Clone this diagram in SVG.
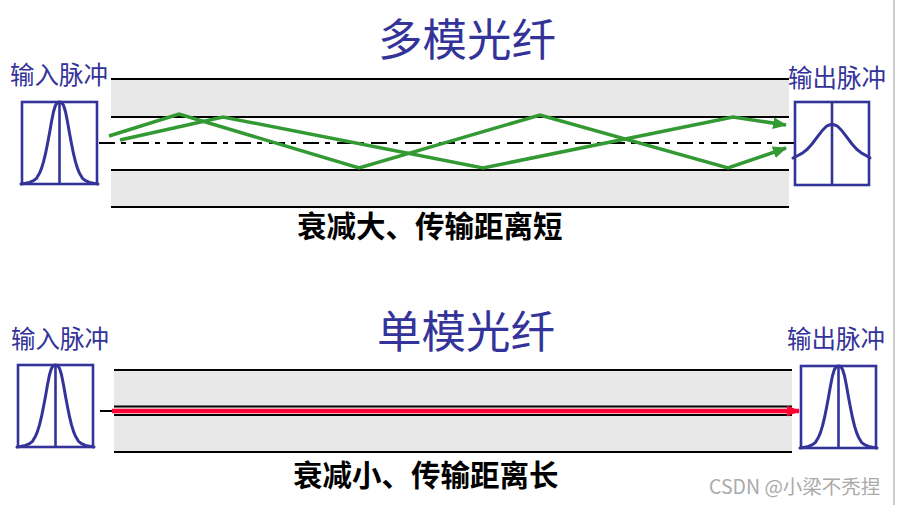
<svg xmlns="http://www.w3.org/2000/svg" width="897" height="505" viewBox="0 0 897 505">
<style>
.title{font-family:"Noto Sans CJK SC","Noto Sans",sans-serif;font-size:44.5px;fill:#333399}
.lbl{font-family:"Noto Sans CJK SC","Noto Sans",sans-serif;font-size:24.5px;fill:#333399}
.cap{font-family:"Noto Sans CJK SC","Noto Sans",sans-serif;font-size:29.5px;font-weight:bold;fill:#000}
.wm{font-family:"Noto Sans CJK SC","Liberation Sans",sans-serif;font-size:19.5px;fill:#aaaaaa}
.clad{fill:#e8e8e8}
.edge{stroke:#000;stroke-width:2;fill:none}
.box{fill:#fff;stroke:#333399;stroke-width:2.6}
.pulse{fill:none;stroke:#333399;stroke-width:3;stroke-linejoin:round;stroke-linecap:round}
.ray{fill:none;stroke:#339933;stroke-width:3.5;stroke-linejoin:miter}
</style>
<defs>
<marker id="ga" markerUnits="userSpaceOnUse" markerWidth="14" markerHeight="12" refX="13" refY="6" orient="auto">
<path d="M0,0 L14,6 L0,12 Z" fill="#339933"/>
</marker>
<marker id="ra" markerUnits="userSpaceOnUse" markerWidth="13" markerHeight="11" refX="12" refY="5.5" orient="auto">
<path d="M0,0 L13,5.5 L0,11 Z" fill="#ff0033"/>
</marker>
<g id="narrow">
<rect class="box" x="0" y="0" width="75" height="82"/>
<line x1="37.5" y1="0" x2="37.5" y2="82" stroke="#333399" stroke-width="2.6"/>
<path class="pulse" d="M-1,82 L3.5,81.3 L7.5,80.4 L11.5,78.7 L14.5,76.3 L17.5,71.3 L19.5,66.4 L21.5,59.9 L23.5,51.7 L25.5,41.8 L27.5,31.2 L29.5,19.7 L31.5,9.8 L33.5,3.3 L35.5,0.4 L37.5,0 L39.5,0.4 L41.5,3.3 L43.5,9.8 L45.5,19.7 L47.5,31.2 L49.5,41.8 L51.5,51.7 L53.5,59.9 L55.5,66.4 L57.5,71.3 L60.5,76.3 L63.5,78.7 L67.5,80.4 L71.5,81.3 L76,82"/>
</g>
</defs>

<line x1="894" y1="0" x2="894" y2="505" stroke="#cccccc" stroke-width="2"/>

<g id="multimode">
<text class="title" x="467" y="56" text-anchor="middle">多模光纤</text>
<g id="mm-fiber">
<rect class="clad" x="111" y="79" width="678" height="38"/>
<rect class="clad" x="111" y="170" width="678" height="37"/>
<line class="edge" x1="111" y1="79" x2="789" y2="79"/>
<line class="edge" x1="111" y1="117" x2="789" y2="117"/>
<line class="edge" x1="111" y1="170" x2="789" y2="170"/>
<line class="edge" x1="111" y1="207" x2="789" y2="207"/>
<line x1="99" y1="143" x2="796" y2="143" stroke="#000" stroke-width="2" stroke-dasharray="16 6 5 7"/>
</g>
<g id="mm-input">
<text class="lbl" x="10" y="84">输入脉冲</text>
<use href="#narrow" x="22" y="102"/>
</g>
<g id="mm-output">
<text class="lbl" x="788" y="87">输出脉冲</text>
<rect class="box" x="795" y="102" width="74" height="83"/>
<line x1="832" y1="102" x2="832" y2="185" stroke="#333399" stroke-width="2.6"/>
<path class="pulse" d="M793,158 L797,156 L802,153.4 L807,149.5 L812,144 L817,137.4 L822,130.8 L827,125.8 L832,124 L837,125.8 L842,130.8 L847,137.4 L852,144 L857,149.5 L862,153.4 L867,156 L870,158"/>
</g>
<text class="cap" x="297" y="237">衰减大、传输距离短</text>
</g>

<g id="singlemode">
<text class="title" x="466" y="348" text-anchor="middle">单模光纤</text>
<g id="sm-fiber">
<rect class="clad" x="114" y="370" width="678" height="82"/>
<line class="edge" x1="114" y1="370" x2="792" y2="370"/>
<line class="edge" x1="114" y1="406.5" x2="792" y2="406.5"/>
<line class="edge" x1="114" y1="415" x2="792" y2="415"/>
<line class="edge" x1="114" y1="452" x2="792" y2="452"/>
</g>
<g id="sm-input">
<text class="lbl" x="11" y="348">输入脉冲</text>
<use href="#narrow" x="18" y="365"/>
</g>
<g id="sm-output">
<text class="lbl" x="787" y="348">输出脉冲</text>
<use href="#narrow" x="801" y="366"/>
</g>
<text class="cap" x="293" y="486">衰减小、传输距离长</text>
</g>

<g id="connectors">
<polyline class="ray" points="109,136 179,114 359,168 540,115 728,168 786,148" marker-end="url(#ga)"/>
<polyline class="ray" points="120,140 223,117 483,168 733,117 786,125" marker-end="url(#ga)"/>
<line x1="100" y1="411" x2="790" y2="411" stroke="#000" stroke-width="2"/>
<line x1="112" y1="411" x2="799" y2="411" stroke="#ff0033" stroke-width="4.5" marker-end="url(#ra)"/>
</g>

<text class="wm" x="709" y="494">CSDN @小梁不秃捏</text>
</svg>
